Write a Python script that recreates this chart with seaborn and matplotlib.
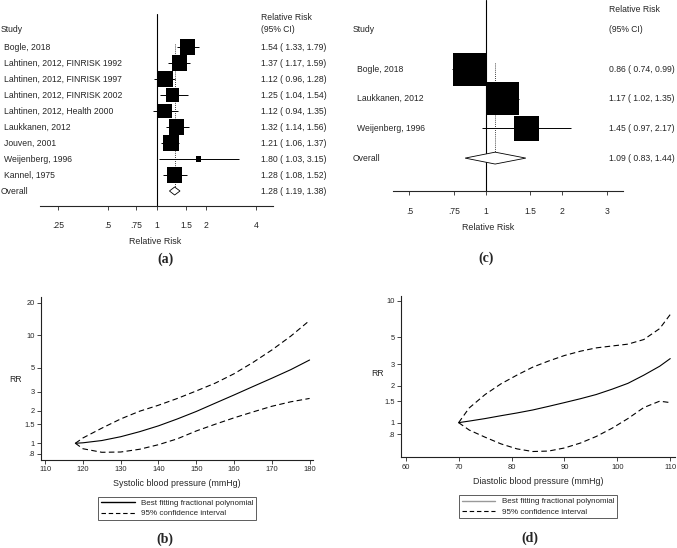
import numpy as np
import pandas as pd
import matplotlib
matplotlib.use("Agg")
import matplotlib.pyplot as plt
import seaborn as sns
from matplotlib.lines import Line2D
from matplotlib.ticker import NullLocator
from matplotlib.transforms import blended_transform_factory

sns.set_style("white")
plt.rcParams['font.family'] = ['Liberation Sans', 'DejaVu Sans']

# ---- data: forest plot (a) ----
studies_a = ["Bogle, 2018", "Lahtinen, 2012, FINRISK 1992", "Lahtinen, 2012, FINRISK 1997",
             "Lahtinen, 2012, FINRISK 2002", "Lahtinen, 2012, Health 2000", "Laukkanen, 2012",
             "Jouven, 2001", "Weijenberg, 1996", "Kannel, 1975"]
rr_a = [1.54, 1.37, 1.12, 1.25, 1.12, 1.32, 1.21, 1.80, 1.28]
lo_a = [1.33, 1.17, 0.96, 1.04, 0.94, 1.14, 1.06, 1.03, 1.08]
hi_a = [1.79, 1.59, 1.28, 1.54, 1.35, 1.56, 1.37, 3.15, 1.52]
weight_a = [12.5, 12.5, 14.2, 9.4, 10.9, 12.5, 14.2, 1.4, 12.5]
overall_a = [1.28, 1.19, 1.38]
ticks_a = [0.25, 0.5, 0.75, 1, 1.5, 2, 4]
ticklabels_a = [".25", ".5", ".75", "1", "1.5", "2", "4"]

# ---- data: forest plot (c) ----
studies_c = ["Bogle, 2018", "Laukkanen, 2012", "Weijenberg, 1996"]
rr_c = [0.86, 1.17, 1.45]
lo_c = [0.74, 1.02, 0.97]
hi_c = [0.99, 1.35, 2.17]
weight_c = [39.4, 39.4, 21.3]
overall_c = [1.09, 0.83, 1.44]
ticks_c = [0.5, 0.75, 1, 1.5, 2, 3]
ticklabels_c = [".5", ".75", "1", "1.5", "2", "3"]

# ---- data: dose-response (b), systolic ----
sbp = [118, 120, 125, 130, 135, 140, 145, 150, 155, 160, 165, 170, 175, 180]
sbp_fit = [1.0, 1.01, 1.06, 1.15, 1.28, 1.45, 1.68, 1.97, 2.35, 2.8, 3.35, 4.0, 4.8, 5.9]
sbp_upper = [1.0, 1.12, 1.38, 1.68, 1.98, 2.25, 2.6, 3.05, 3.6, 4.4, 5.6, 7.3, 9.8, 13.7]
sbp_lower = [1.0, 0.89, 0.825, 0.83, 0.88, 0.97, 1.1, 1.3, 1.5, 1.72, 1.95, 2.2, 2.42, 2.6]
yticks_b = [0.8, 1, 1.5, 2, 3, 5, 10, 20]
yticklabels_b = [".8", "1", "1.5", "2", "3", "5", "10", "20"]
xticks_b = [110, 120, 130, 140, 150, 160, 170, 180]

# ---- data: dose-response (d), diastolic ----
dbp = [70, 72, 75, 78, 81, 84, 87, 90, 93, 96, 99, 102, 105, 108, 110]
dbp_fit = [1.0, 1.03, 1.08, 1.14, 1.2, 1.27, 1.36, 1.46, 1.57, 1.7, 1.88, 2.1, 2.45, 2.9, 3.35]
dbp_upper = [1.0, 1.32, 1.7, 2.08, 2.45, 2.85, 3.2, 3.55, 3.85, 4.1, 4.25, 4.4, 4.8, 5.9, 7.7]
dbp_lower = [1.0, 0.87, 0.76, 0.67, 0.61, 0.58, 0.585, 0.62, 0.68, 0.77, 0.9, 1.08, 1.33, 1.5, 1.46]
yticks_d = [0.8, 1, 1.5, 2, 3, 5, 10]
yticklabels_d = [".8", "1", "1.5", "2", "3", "5", "10"]
xticks_d = [60, 70, 80, 90, 100, 110]

W, H = 677, 548
fig = plt.figure(figsize=(W / 100, H / 100), dpi=100)


def fx(x):
    return x / W


def fy(y):
    return 1 - y / H


def add_ax(l, t, r, b):
    return fig.add_axes([l / W, 1 - b / H, (r - l) / W, (b - t) / H])


def ptext(x, y, s, **kw):
    kw.setdefault('fontsize', 6.2)
    kw.setdefault('va', 'center')
    fig.text(fx(x), fy(y), s, **kw)


def forest(ax, names, rr, lo, hi, weight, overall, ticks, ticklabels,
           xlim, ylim, box_max_px, diamond_h, name_x, head_x, ci_x, tick_pad):
    n = len(names)
    rows = np.arange(n)
    df = pd.DataFrame({'rr': rr, 'row': rows, 'w': weight})
    ax.hlines(rows, lo, hi, color='black', lw=0.7, zorder=1)
    # box area proportional to study weight
    s_max = (box_max_px * 0.72) ** 2
    sns.scatterplot(data=df, x='rr', y='row', size='w', sizes=(0, s_max),
                    size_norm=(0, max(weight)), marker='s', color='black',
                    linewidth=0, legend=False, ax=ax, zorder=2)
    est, olo, ohi = overall
    ax.vlines(est, -0.2, n - diamond_h, color='black', lw=0.6, linestyles=(0, (1, 1.5)), zorder=0)
    ax.fill([olo, est, ohi, est], [n, n - diamond_h, n, n + diamond_h],
            facecolor='white', edgecolor='black', lw=0.6, zorder=3)
    ax.axvline(1, color='black', lw=0.8, zorder=1)
    ax.set_xscale('log')
    ax.set_xlim(*xlim)
    ax.set_ylim(*ylim)
    ax.set_xticks(ticks)
    ax.set_xticklabels(ticklabels)
    ax.xaxis.set_minor_locator(NullLocator())
    ax.set_yticks([])
    ax.set_xlabel('')
    ax.set_ylabel('')
    ax.tick_params(axis='x', direction='out', length=3, width=0.6, labelsize=6.2,
                   pad=tick_pad, bottom=True)
    for side in ['left', 'top', 'right']:
        ax.spines[side].set_visible(False)
    ax.spines['bottom'].set_linewidth(0.8)
    ax.set_facecolor('none')
    tr = blended_transform_factory(fig.transFigure, ax.transData)
    for i, name in enumerate(names):
        ax.text(fx(name_x), i, name, transform=tr, va='center', ha='left', fontsize=6.2)
        ax.text(fx(ci_x), i, f"{rr[i]:.2f} ( {lo[i]:.2f}, {hi[i]:.2f})", transform=tr,
                va='center', ha='left', fontsize=6.2)
    ax.text(fx(head_x), n, "Overall", transform=tr, va='center', ha='left', fontsize=6.2)
    ax.text(fx(ci_x), n, f"{est:.2f} ( {olo:.2f}, {ohi:.2f})", transform=tr,
            va='center', ha='left', fontsize=6.2)


def curve_panel(ax, x, fit, upper, lower, xticks, yticks, yticklabels, xlim, ylim):
    dash = (0, (5, 3))
    sns.lineplot(x=x, y=upper, ax=ax, color='black', lw=0.8, linestyle=dash,
                 estimator=None, sort=False)
    sns.lineplot(x=x, y=lower, ax=ax, color='black', lw=0.8, linestyle=dash,
                 estimator=None, sort=False)
    sns.lineplot(x=x, y=fit, ax=ax, color='black', lw=0.8,
                 estimator=None, sort=False)
    ax.set_yscale('log')
    ax.set_xlim(*xlim)
    ax.set_ylim(*ylim)
    ax.set_yticks(yticks)
    ax.set_yticklabels(yticklabels)
    ax.yaxis.set_minor_locator(NullLocator())
    ax.set_xticks(xticks)
    ax.set_xticklabels([str(t) for t in xticks])
    ax.set_xlabel('')
    ax.set_ylabel('')
    ax.tick_params(direction='out', length=3, width=0.6, labelsize=5.4, pad=1.5,
                   left=True, bottom=True)
    for side in ['top', 'right']:
        ax.spines[side].set_visible(False)
    for side in ['left', 'bottom']:
        ax.spines[side].set_linewidth(0.8)
        ax.spines[side].set_color('#222222')
    ax.set_facecolor('none')


def legend_box(ax, cx, cy, solid_color):
    handles = [Line2D([], [], color=solid_color, lw=1.0),
               Line2D([], [], color='black', lw=0.8, linestyle=(0, (4, 2.5)))]
    labels = ["Best fitting fractional polynomial", "95% confidence interval"]
    leg = ax.legend(handles, labels, loc='center', bbox_to_anchor=(fx(cx), fy(cy)),
                    bbox_transform=fig.transFigure, fontsize=5.8, frameon=True,
                    fancybox=False, handlelength=4.2, handletextpad=0.8,
                    borderpad=0.35, labelspacing=0.3)
    leg.get_frame().set_edgecolor('#333333')
    leg.get_frame().set_linewidth(0.7)


# ---- (a) forest plot ----
ax_a = add_ax(40, 14, 273, 206)
forest(ax_a, studies_a, rr_a, lo_a, hi_a, weight_a, overall_a, ticks_a, ticklabels_a,
       xlim=(0.194, 5.08), ylim=((206 - 47) / 16, (14 - 47) / 16), box_max_px=16,
       diamond_h=0.25, name_x=4, head_x=0.5, ci_x=261, tick_pad=8)
ptext(0.5, 29, "Study")
ptext(261, 17, "Relative Risk")
ptext(261, 30, "(95% CI)")
ptext(155, 241, "Relative Risk", ha='center', fontsize=6.4)
ptext(165, 259, "(a)", ha='center', fontsize=10, fontweight='bold', family='Liberation Serif')

# ---- (c) forest plot ----
ax_c = add_ax(392.7, 0, 623.3, 191)
forest(ax_c, studies_c, rr_c, lo_c, hi_c, weight_c, overall_c, ticks_c, ticklabels_c,
       xlim=(0.43, 3.49), ylim=((191 - 69) / 29.7, (0 - 69) / 29.7), box_max_px=33,
       diamond_h=0.2, name_x=357, head_x=353, ci_x=609, tick_pad=8.5)
ptext(353, 30, "Study")
ptext(609, 9, "Relative Risk")
ptext(609, 30, "(95% CI)")
ptext(488, 227, "Relative Risk", ha='center', fontsize=6.4)
ptext(486, 258, "(c)", ha='center', fontsize=10, fontweight='bold', family='Liberation Serif')

# ---- (b) systolic ----
ax_b = add_ax(41, 297, 313, 460)
curve_panel(ax_b, sbp, sbp_fit, sbp_upper, sbp_lower, xticks_b, yticks_b, yticklabels_b,
            xlim=(108.9, 180.9), ylim=(0.70, 22.6))
ptext(16, 379, "RR", ha='center')
ptext(177, 483, "Systolic blood pressure (mmHg)", ha='center', fontsize=6.4)
legend_box(ax_b, 177.2, 508.5, 'black')
ptext(165, 539, "(b)", ha='center', fontsize=10, fontweight='bold', family='Liberation Serif')

# ---- (d) diastolic ----
ax_d = add_ax(400.7, 295.7, 675, 457.3)
curve_panel(ax_d, dbp, dbp_fit, dbp_upper, dbp_lower, xticks_d, yticks_d, yticklabels_d,
            xlim=(59.05, 110.9), ylim=(0.52, 10.98))
ptext(377, 374, "RR", ha='center')
ptext(538, 481, "Diastolic blood pressure (mmHg)", ha='center', fontsize=6.4)
legend_box(ax_d, 538, 506.7, '#999999')
ptext(530, 538, "(d)", ha='center', fontsize=10, fontweight='bold', family='Liberation Serif')

fig.savefig("out.png", dpi=100)
